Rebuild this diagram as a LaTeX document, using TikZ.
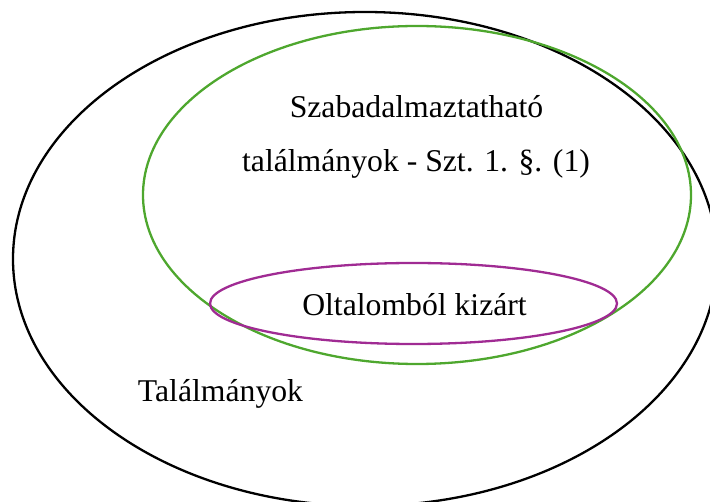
\documentclass[tikz,border=0pt]{standalone}
\usepackage{fontspec}
\setmainfont{Liberation Serif}
\usetikzlibrary{shapes.geometric}
\definecolor{setgreen}{HTML}{4EA72E}
\definecolor{setpurple}{HTML}{A02B93}
\tikzset{
  setshape/.style={ellipse, draw, line width=2.3pt, inner sep=0pt, outer sep=0pt},
  label/.style={anchor=base, inner sep=0pt, font=\fontsize{31.7}{38}\selectfont}
}
\begin{document}
\begin{tikzpicture}[x=1pt, y=-1pt]
\useasboundingbox (0,0) rectangle (710,502);
\clip (0,0) rectangle (710,502);
\node[setshape, draw=black, minimum width=704pt, minimum height=494pt] (all) at (365,259) {};
\node[setshape, draw=setgreen, minimum width=548pt, minimum height=338pt] (patent) at (417,195) {};
\node[setshape, draw=setpurple, minimum width=407pt, minimum height=81pt] (excl) at (413.5,303.5) {};
\node[label] (t1) at (416.5,118) {Szabadalmaztatható};
\node[label] (t2) at (416,172) {találmányok - Szt. 1. §. (1)};
\node[label] (t3) at (414.5,316) {Oltalomból kizárt};
\node[label] (t4) at (220.5,402) {Találmányok};
\end{tikzpicture}
\end{document}
